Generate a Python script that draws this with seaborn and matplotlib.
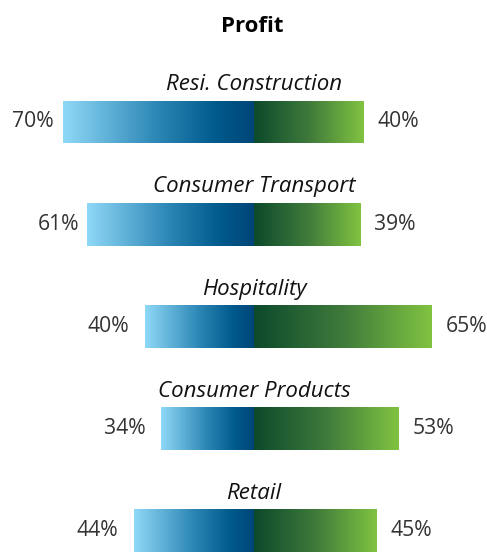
import matplotlib
matplotlib.use("Agg")
import matplotlib.pyplot as plt
from matplotlib.colors import LinearSegmentedColormap
import numpy as np
import pandas as pd
import seaborn as sns

categories = ["Resi. Construction", "Consumer Transport", "Hospitality",
              "Consumer Products", "Retail"]
left_values = [70, 61, 40, 34, 44]
right_values = [40, 39, 65, 53, 45]

sns.set_theme(style="white")
plt.rcParams["font.family"] = ["Open Sans", "DejaVu Sans"]

blue_cmap = LinearSegmentedColormap.from_list(
    "blue", [(0, "#8fd8f7"), (0.5, "#2a85b4"), (0.8, "#005a8c"), (1, "#004577")])
green_cmap = LinearSegmentedColormap.from_list(
    "green", [(0, "#0c4a2b"), (0.5, "#3f7a3b"), (1, "#80c341")])

df = pd.DataFrame({"category": categories,
                   "left": [-v for v in left_values],
                   "right": right_values})

fig = plt.figure(figsize=(4.87, 5.52), dpi=100)
ax = fig.add_axes([0, 0, 1, 1])

sns.barplot(data=df, x="left", y="category", orient="h", width=0.42,
            color="#004577", ax=ax)
sns.barplot(data=df, x="right", y="category", orient="h", width=0.42,
            color="#0c4a2b", ax=ax)

# paint each bar with its own gradient
grad = np.linspace(0, 1, 256).reshape(1, -1)
for p in ax.patches:
    x0, y0 = p.get_x(), p.get_y()
    w, h = p.get_width(), p.get_height()
    cmap = blue_cmap if w < 0 else green_cmap
    xa, xb = sorted([x0, x0 + w])
    im = ax.imshow(grad, cmap=cmap, aspect="auto", interpolation="bilinear",
                   extent=[xa, xb, y0 + h, y0], zorder=3)
    im.set_clip_path(p)
    p.set_edgecolor("none")

px = 2.73
ax.set_xlim(-254 / px, (487 - 254) / px)
ax.set_ylim((552 - 122) / 102.1, -122 / 102.1)
ax.set_axis_off()

left_pad = [9, 8, 16, 16, 16]
for i, cat in enumerate(categories):
    ax.text(0, i - 0.21 - 0.1, cat, ha="center", va="baseline",
            fontsize=16, style="italic", color="#111111")
    ax.annotate(f"{left_values[i]}%", (-left_values[i], i),
                xytext=(-left_pad[i] * 0.72, 0), textcoords="offset points",
                ha="right", va="center", fontsize=15.2, color="#333333")
    ax.annotate(f"{right_values[i]}%", (right_values[i], i),
                xytext=(14 * 0.72, 0), textcoords="offset points",
                ha="left", va="center", fontsize=15.2, color="#333333")

fig.text(252 / 487, 1 - 32 / 552, "Profit", ha="center", va="baseline",
         fontsize=16, fontweight="bold", color="#000000")

fig.savefig("out.png", dpi=100)
